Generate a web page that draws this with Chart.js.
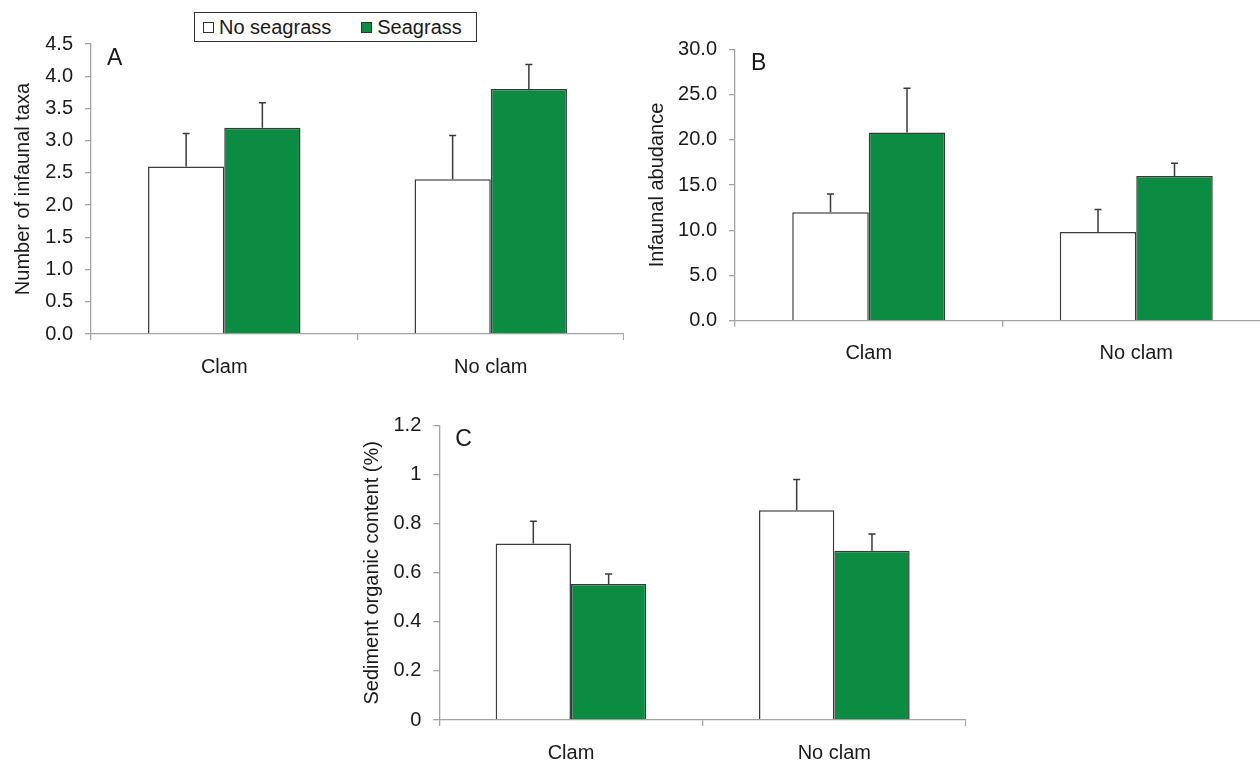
<!DOCTYPE html>
<html>
<head>
<meta charset="utf-8">
<script src="https://cdn.jsdelivr.net/npm/chart.js@4.4.1/dist/chart.umd.min.js"></script>
<style>
  html, body { margin: 0; padding: 0; background: #fff; width: 1260px; height: 760px; overflow: hidden; position: relative; }
  canvas { position: absolute; }
  #legend {
    position: absolute; left: 194px; top: 12px; width: 283px; height: 30px;
    box-sizing: border-box; border: 1.5px solid #333; background: #fff;
    font: 20px "Liberation Sans", Arial, sans-serif; color: #1a1a1a;
    display: flex; align-items: center; padding-left: 8px; white-space: nowrap;
  }
  #legend .item { display: flex; align-items: center; margin-right: 30px; }
  #legend .swatch { width: 11px; height: 11px; box-sizing: border-box; border: 1.2px solid #333; margin-right: 5px; }
</style>
</head>
<body>
<div id="legend"></div>
<canvas id="panelA" width="624" height="400" style="left:0px;top:0px"></canvas>
<canvas id="panelB" width="640" height="390" style="left:630px;top:0px"></canvas>
<canvas id="panelC" width="626" height="360" style="left:340px;top:400px"></canvas>
<script>
// Treatments and series
const categories = ['Clam', 'No clam'];
const seriesNames = ['No seagrass', 'Seagrass'];
const seriesFill = ['#ffffff', '#0c8c42'];

// A: number of infaunal taxa (mean and upper SE)
const taxaNoSeagrass = [2.6, 2.4];
const taxaSeagrass = [3.2, 3.8];
const taxaErrNoSeagrass = [0.51, 0.68];
const taxaErrSeagrass = [0.39, 0.38];
const taxaTicks = ['0.0', '0.5', '1.0', '1.5', '2.0', '2.5', '3.0', '3.5', '4.0', '4.5'];

// B: infaunal abundance
const abundNoSeagrass = [12.0, 9.8];
const abundSeagrass = [20.8, 16.0];
const abundErrNoSeagrass = [2.0, 2.5];
const abundErrSeagrass = [4.9, 1.4];
const abundTicks = ['0.0', '5.0', '10.0', '15.0', '20.0', '25.0', '30.0'];

// C: sediment organic content (%)
const organicNoSeagrass = [0.72, 0.855];
const organicSeagrass = [0.555, 0.69];
const organicErrNoSeagrass = [0.09, 0.126];
const organicErrSeagrass = [0.04, 0.068];
const organicTicks = ['0', '0.2', '0.4', '0.6', '0.8', '1', '1.2'];

const FONT = '"Liberation Sans", Arial, sans-serif';
const INK = '#1a1a1a';
const AXIS = '#a3a3a3';
const OUTLINE = '#3a3a3a';

Chart.defaults.font.family = FONT;
Chart.defaults.color = INK;

// Legend box
const legend = document.getElementById('legend');
seriesNames.forEach((name, i) => {
  const item = document.createElement('span');
  item.className = 'item';
  const sw = document.createElement('span');
  sw.className = 'swatch';
  sw.style.background = seriesFill[i];
  const txt = document.createElement('span');
  txt.textContent = name;
  item.appendChild(sw);
  item.appendChild(txt);
  legend.appendChild(item);
});

// Upward standard-error whiskers with a small cap
const errorBars = {
  id: 'errorBars',
  afterDatasetsDraw(chart) {
    const ctx = chart.ctx;
    const y = chart.scales.y;
    ctx.save();
    ctx.strokeStyle = OUTLINE;
    ctx.lineWidth = 1.5;
    chart.data.datasets.forEach((ds, i) => {
      const meta = chart.getDatasetMeta(i);
      meta.data.forEach((bar, j) => {
        const top = y.getPixelForValue(ds.data[j] + ds.errors[j]);
        ctx.beginPath();
        ctx.moveTo(bar.x, bar.y);
        ctx.lineTo(bar.x, top);
        ctx.moveTo(bar.x - 3.5, top);
        ctx.lineTo(bar.x + 3.5, top);
        ctx.stroke();
      });
    });
    ctx.restore();
  }
};

// Panel letter in the upper-left corner of the plot area
const panelLetter = {
  id: 'panelLetter',
  afterDraw(chart, args, opts) {
    const { ctx, chartArea } = chart;
    ctx.save();
    ctx.font = '23px ' + FONT;
    ctx.fillStyle = INK;
    ctx.textBaseline = 'alphabetic';
    ctx.textAlign = 'left';
    ctx.fillText(opts.text, chartArea.left + 16, chartArea.top + 20.5);
    ctx.restore();
  }
};

function makePanel(id, p) {
  return new Chart(document.getElementById(id), {
    type: 'bar',
    data: {
      labels: categories,
      datasets: [
        { label: seriesNames[0], data: p.noSeagrass, errors: p.errNo,
          backgroundColor: seriesFill[0], borderColor: OUTLINE, borderWidth: 1.5 },
        { label: seriesNames[1], data: p.seagrass, errors: p.errSea,
          backgroundColor: seriesFill[1], borderColor: OUTLINE, borderWidth: 1.5 }
      ]
    },
    options: {
      responsive: false,
      animation: false,
      devicePixelRatio: 1,
      layout: { padding: { top: p.padTop, left: 0, right: 0, bottom: 0 } },
      datasets: { bar: { categoryPercentage: 0.572, barPercentage: 1 } },
      plugins: {
        legend: { display: false },
        tooltip: { enabled: false },
        panelLetter: { text: p.letter }
      },
      scales: {
        x: {
          offset: true,
          grid: { display: true, drawOnChartArea: false, drawTicks: true, tickLength: 6,
                  color: AXIS, lineWidth: 1.3, offset: true },
          border: { color: AXIS, width: 1.3 },
          ticks: { font: { size: 20 }, color: INK, padding: 15, maxRotation: 0 },
          afterFit: s => { s.height = p.xHeight; s.paddingLeft = 0; s.paddingRight = 0; }
        },
        y: {
          min: 0,
          max: Number(p.ticks[p.ticks.length - 1]),
          grid: { display: true, drawOnChartArea: false, drawTicks: true, tickLength: 6,
                  color: AXIS, lineWidth: 1.3 },
          border: { color: AXIS, width: 1.3 },
          afterBuildTicks: s => { s.ticks = p.ticks.map(t => ({ value: Number(t) })); },
          ticks: { font: { size: 20 }, color: INK, padding: 12,
                   callback: (v, i) => p.ticks[i] },
          title: { display: true, text: p.title, font: { size: 20 }, color: INK,
                   padding: { top: p.titlePad, bottom: 0 } },
          afterFit: s => { s.width = p.yWidth; s.paddingTop = 0; s.paddingBottom = 0; }
        }
      }
    },
    plugins: [errorBars, panelLetter]
  });
}

makePanel('panelA', {
  noSeagrass: taxaNoSeagrass, seagrass: taxaSeagrass,
  errNo: taxaErrNoSeagrass, errSea: taxaErrSeagrass,
  ticks: taxaTicks, title: 'Number of infaunal taxa', letter: 'A',
  padTop: 44, yWidth: 91, xHeight: 66, titlePad: 11
});

makePanel('panelB', {
  noSeagrass: abundNoSeagrass, seagrass: abundSeagrass,
  errNo: abundErrNoSeagrass, errSea: abundErrSeagrass,
  ticks: abundTicks, title: 'Infaunal abudance', letter: 'B',
  padTop: 49.3, yWidth: 105, xHeight: 69.3, titlePad: 15
});

makePanel('panelC', {
  noSeagrass: organicNoSeagrass, seagrass: organicSeagrass,
  errNo: organicErrNoSeagrass, errSea: organicErrSeagrass,
  ticks: organicTicks, title: 'Sediment organic content (%)', letter: 'C',
  padTop: 25.7, yWidth: 99.3, xHeight: 40, titlePad: 20.5
});
</script>
</body>
</html>
